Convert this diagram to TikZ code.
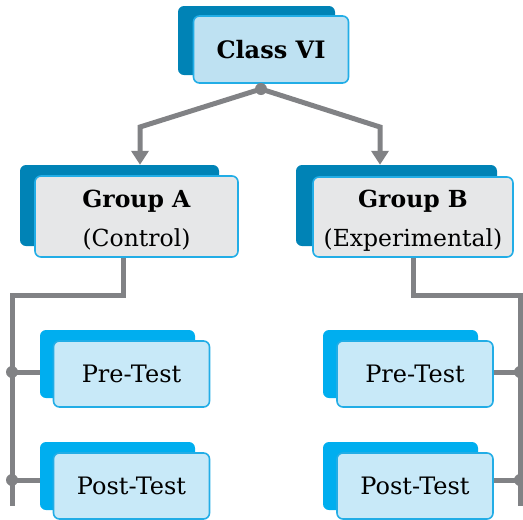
\documentclass[tikz,border=0pt]{standalone}
\usepackage{fontspec}
\setmainfont{DejaVu Serif}
\usetikzlibrary{arrows.meta}
\definecolor{deepblue}{HTML}{0083B6}
\definecolor{skyblue}{HTML}{00AEEF}
\definecolor{edgeblue}{HTML}{22ADE6}
\definecolor{paleblue}{HTML}{BEE1F2}
\definecolor{softblue}{HTML}{C8E9F8}
\definecolor{palegray}{HTML}{E6E7E8}
\definecolor{linegray}{HTML}{818285}
\tikzset{
  backbox/.style={rectangle, rounded corners=6pt, inner sep=0pt},
  frontbox/.style={rectangle, rounded corners=6pt, draw=edgeblue, line width=1.6pt,
    inner sep=0pt, align=center},
  link/.style={draw=linegray, line width=5pt},
  joint/.style={fill=linegray},
  tip/.style={-{Triangle[width=17pt,length=14pt]}},
  boldtext/.style={font=\fontsize{24}{28}\selectfont\bfseries},
  grouptext/.style={font=\fontsize{23.5}{39}\selectfont},
  testtext/.style={font=\fontsize{24}{28}\selectfont}
}
% strut that lowers a two-line label a little inside its box
\newcommand{\lowerstrut}{\rule{0pt}{24pt}}
\begin{document}
\begin{tikzpicture}[x=1pt,y=-1pt]
\useasboundingbox (0,0) rectangle (523,520);

% Class VI
\node[backbox, fill=deepblue, minimum width=157pt, minimum height=69pt] (clsB) at (256.5,40.5) {};
\node[frontbox, fill=paleblue, minimum width=155pt, minimum height=67pt, boldtext] (cls) at (271,49.5)
  {Class VI};

% Groups
\node[backbox, fill=deepblue, minimum width=199pt, minimum height=81pt] (gaB) at (119.5,205.5) {};
\node[frontbox, fill=palegray, minimum width=203pt, minimum height=81pt, grouptext] (ga) at (136.5,216.5)
  {\lowerstrut\textbf{Group A}\\(Control)};
\node[backbox, fill=deepblue, minimum width=201pt, minimum height=81pt] (gbB) at (396.5,205.5) {};
\node[frontbox, fill=palegray, minimum width=200pt, minimum height=80pt, grouptext] (gb) at (413,217)
  {\lowerstrut\textbf{Group B}\\(Experimental)};

% Tests
\node[backbox, fill=skyblue, minimum width=155pt, minimum height=68pt] (preAB) at (117.5,364) {};
\node[frontbox, fill=softblue, minimum width=156pt, minimum height=66pt, testtext] (preA) at (131.5,374)
  {Pre-Test};
\node[backbox, fill=skyblue, minimum width=155pt, minimum height=68pt] (postAB) at (117.5,476) {};
\node[frontbox, fill=softblue, minimum width=156pt, minimum height=66pt, testtext] (postA) at (131.5,486)
  {Post-Test};
\node[backbox, fill=skyblue, minimum width=155pt, minimum height=68pt] (preBB) at (400.5,364) {};
\node[frontbox, fill=softblue, minimum width=156pt, minimum height=66pt, testtext] (preB) at (415,374)
  {Pre-Test};
\node[backbox, fill=skyblue, minimum width=155pt, minimum height=68pt] (postBB) at (400.5,476) {};
\node[frontbox, fill=softblue, minimum width=156pt, minimum height=66pt, testtext] (postB) at (415,486)
  {Post-Test};

% Split below Class VI
\coordinate (split) at (261,89);
\draw[link, tip] (split) -- (140,127) -- (gaB.north -| 140,0);
\draw[link, tip] (split) -- (380,127) -- (gbB.north -| 380,0);
\fill[joint] (split) circle (6pt);

% Group A branch
\coordinate (aEnd) at (12,506);
\coordinate (aPre) at (12,372);
\coordinate (aPost) at (12,480);
\draw[link] (ga.south -| 123,0) -- (123,295) -- (12,295) -- (aEnd);
\draw[link] (aPre) -- (aPre -| preAB.west);
\draw[link] (aPost) -- (aPost -| postAB.west);
\fill[joint] (aPre) circle (6pt);
\fill[joint] (aPost) circle (6pt);

% Group B branch
\coordinate (bEnd) at (520,506);
\coordinate (bPre) at (520,372);
\coordinate (bPost) at (520,480);
\draw[link] (gb.south -| 413,0) -- (413,295) -- (520,295) -- (bEnd);
\draw[link] (preB.east |- bPre) -- (bPre);
\draw[link] (postB.east |- bPost) -- (bPost);
\fill[joint] (bPre) circle (6pt);
\fill[joint] (bPost) circle (6pt);
\end{tikzpicture}
\end{document}
